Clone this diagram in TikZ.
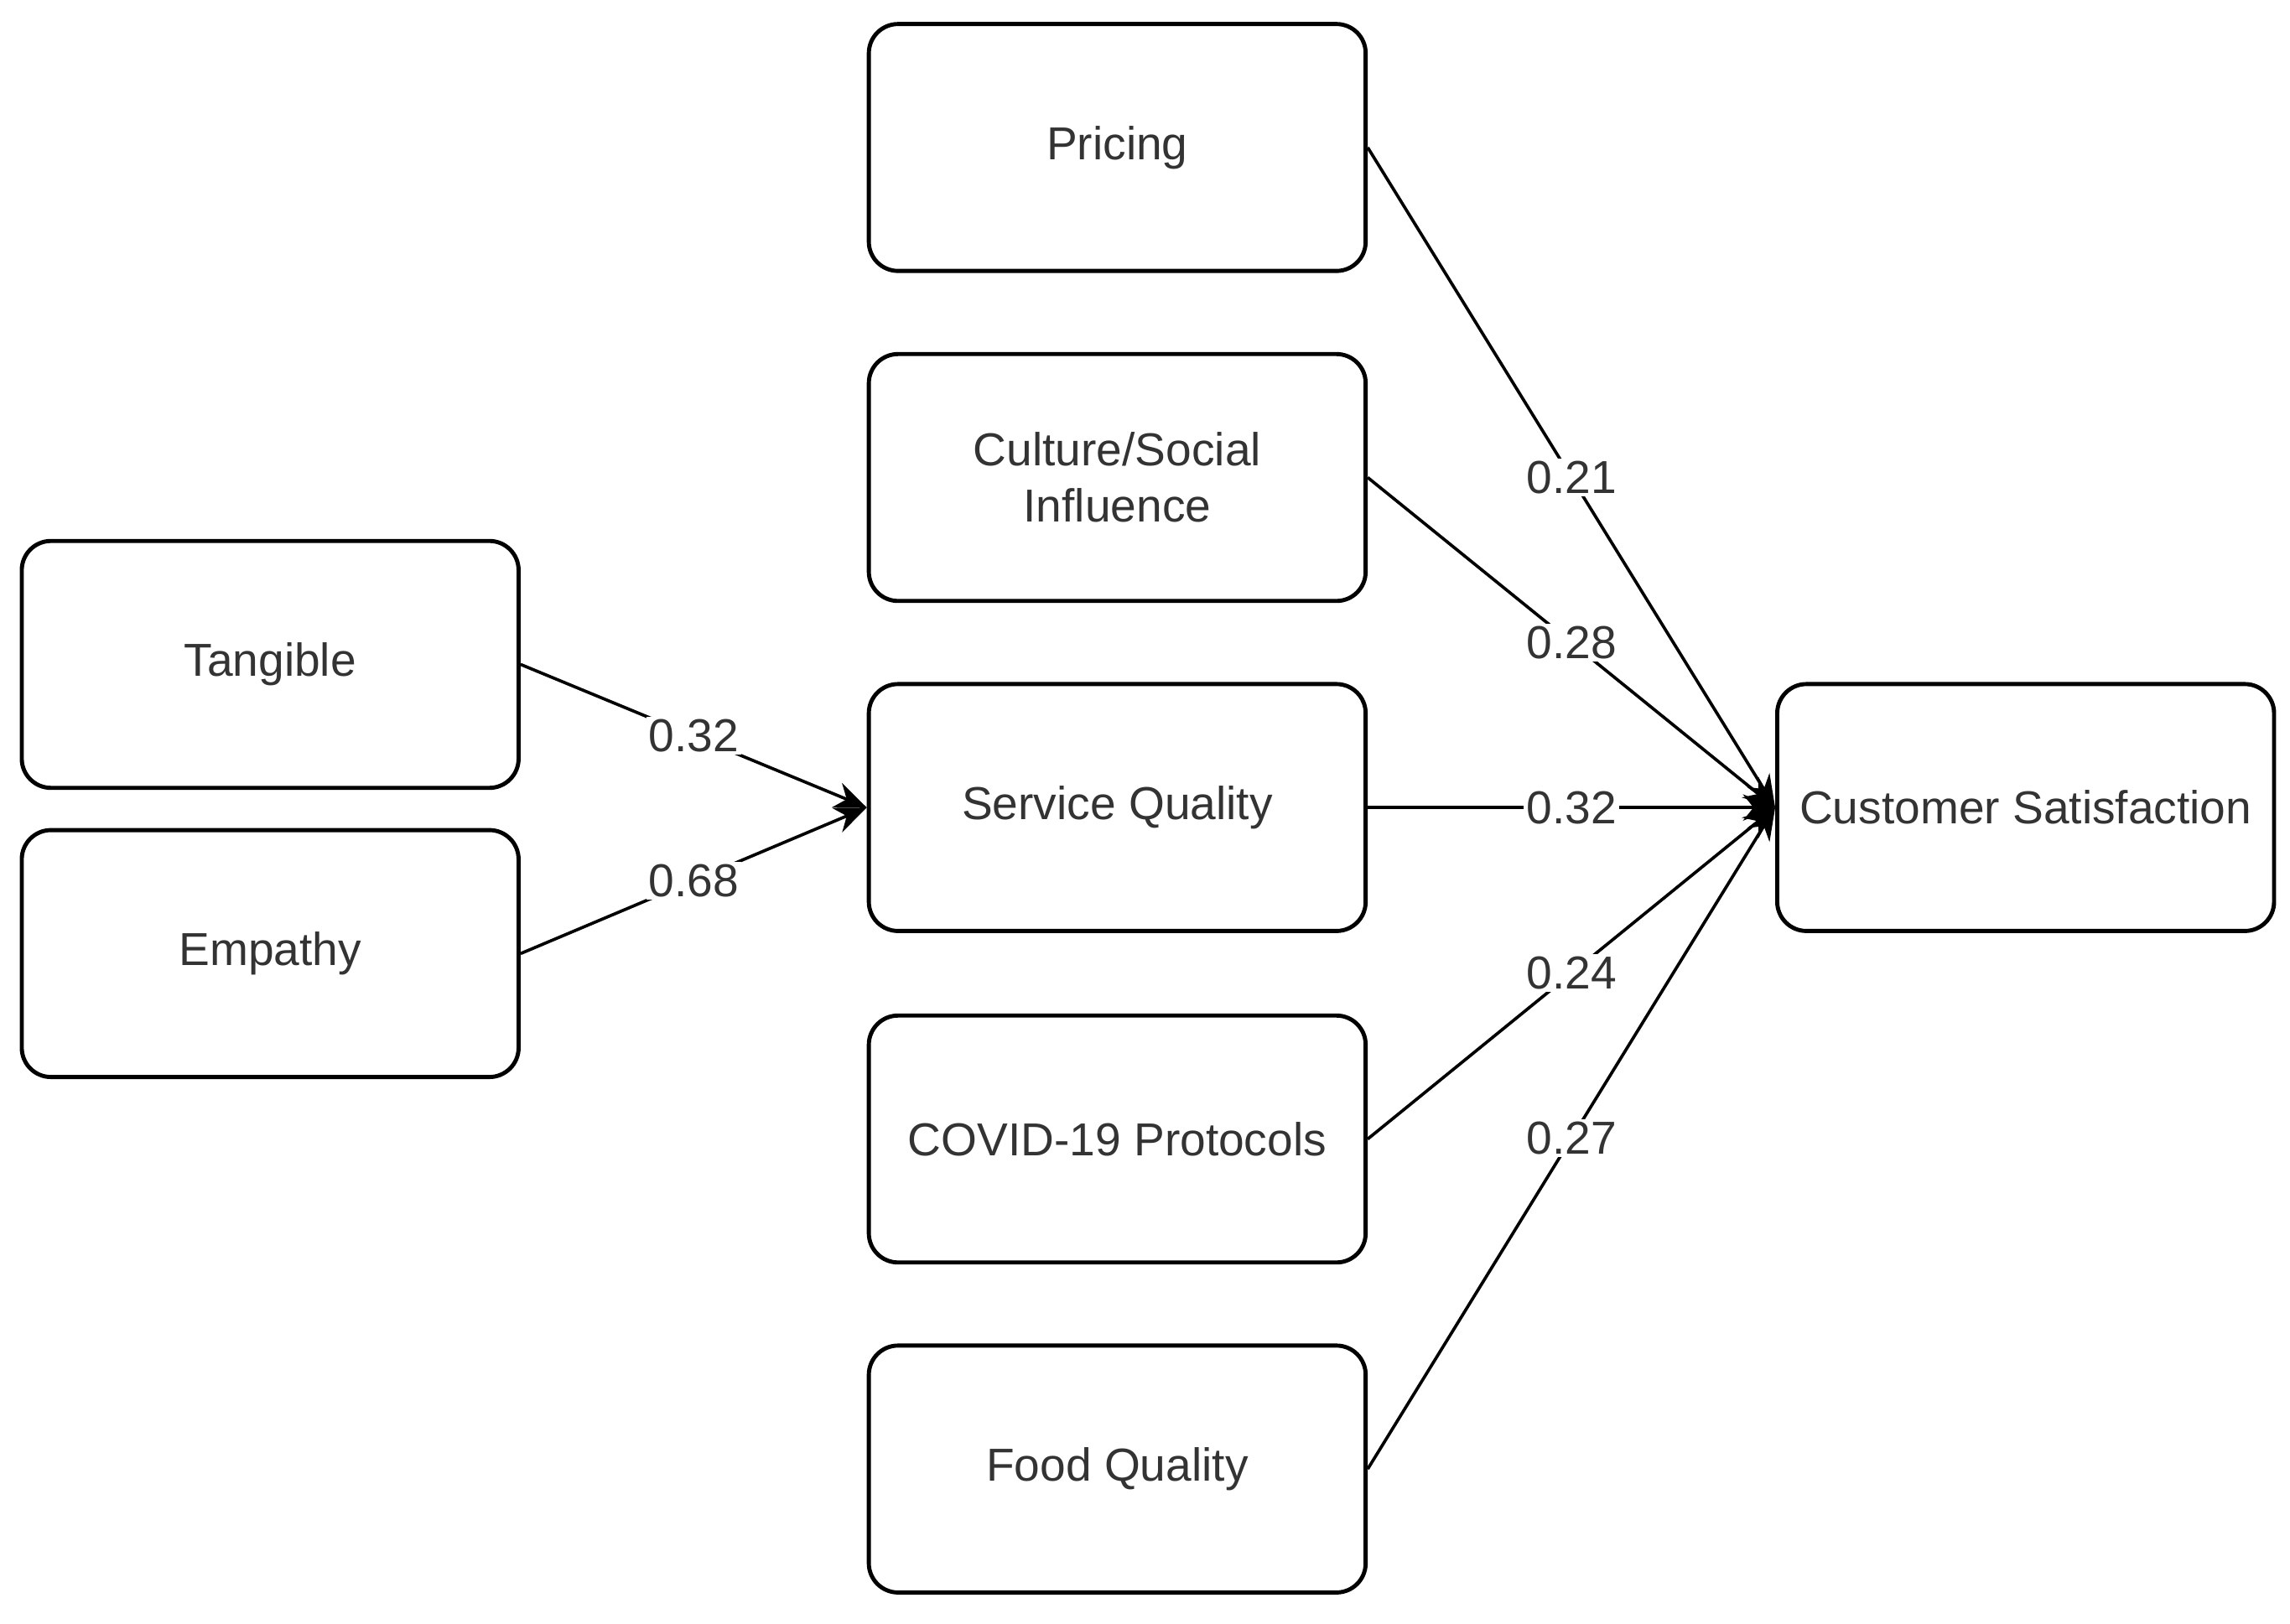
\documentclass[tikz,border=0pt]{standalone}
\usepackage{fontspec}
\setmainfont{Liberation Sans}
\usetikzlibrary{arrows.meta}
\begin{document}
\begin{tikzpicture}[x=0.01cm,y=-0.01cm,
  box/.style={draw,line width=0.8pt,rounded corners=0.2cm,minimum width=3.4cm,minimum height=1.69cm,align=center,font=\fontsize{9}{11}\selectfont,text=black!80},
  conn/.style={line width=0.6pt},
  arr/.style={conn,-{Stealth[length=0.22cm,width=0.18cm]}},
  lab/.style={fill=white,inner sep=0.5pt,font=\fontsize{9}{11}\selectfont,text=black!80}]
\useasboundingbox (0,0) rectangle (1568,1112);
\node[box] (pr) at (765,101) {Pricing};
\node[box] (cu) at (765,327) {Culture/Social\\Influence};
\node[box] (sq) at (765,553) {Service Quality};
\node[box] (co) at (765,780) {COVID-19 Protocols};
\node[box] (fq) at (765,1006) {Food Quality};
\node[box] (ta) at (185,455) {Tangible};
\node[box] (em) at (185,653) {Empathy};
\node[box,inner sep=1pt] (cs) at (1387,553) {Customer Satisfaction};
\draw[arr] (ta.east) -- node[lab]{0.32} (sq.west);
\draw[arr] (em.east) -- node[lab]{0.68} (sq.west);
\draw[arr] (pr.east) -- node[lab]{0.21} (cs.west);
\draw[arr] (cu.east) -- node[lab]{0.28} (cs.west);
\draw[arr] (sq.east) -- node[lab]{0.32} (cs.west);
\draw[arr] (co.east) -- node[lab]{0.24} (cs.west);
\draw[arr] (fq.east) -- node[lab]{0.27} (cs.west);
\end{tikzpicture}
\end{document}
